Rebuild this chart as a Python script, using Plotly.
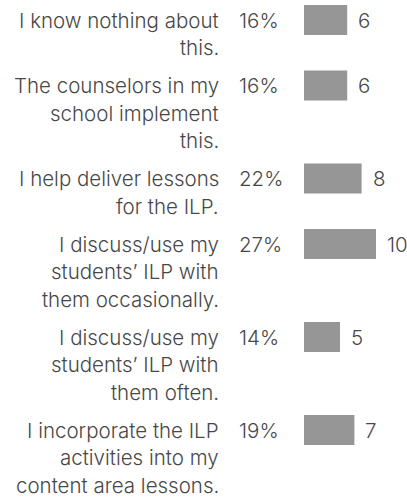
import plotly.graph_objects as go

# Data
labels = [
    ["I know nothing about", "this."],
    ["The counselors in my", "school implement", "this."],
    ["I help deliver lessons", "for the ILP."],
    ["I discuss/use my", "students\u2019 ILP with", "them occasionally."],
    ["I discuss/use my", "students\u2019 ILP with", "them often."],
    ["I incorporate the ILP", "activities into my", "content area lessons."],
]
percents = ["16%", "16%", "22%", "27%", "14%", "19%"]
counts = [6, 6, 8, 10, 5, 7]

# Layout parameters (pixels)
W, H = 407, 497
LINE = 27.5
PAD = 10.5
TOP0 = 5
BAR_H = 30
BAR_X0 = 304
PX_PER_UNIT = 7.2
LABEL_RIGHT = 221
PCT_LEFT = 237

FONT = "Inter"
FSIZE = 20.5
TXT = "#474747"
BAR = "#969696"

tops = []
t = TOP0
for lines in labels:
    tops.append(t)
    t += len(lines) * LINE + PAD
centers = [tp + BAR_H / 2 for tp in tops]

fig = go.Figure()
fig.add_trace(go.Bar(
    x=counts, y=centers, orientation="h", width=BAR_H,
    marker=dict(color=BAR, line=dict(width=0)),
    hoverinfo="skip",
))

fnt = dict(family=FONT, size=FSIZE, color=TXT, weight=300)
ann = []
for lines, c, p, n in zip(labels, centers, percents, counts):
    for i, ln in enumerate(lines):
        ann.append(dict(x=LABEL_RIGHT / W, xref="paper", y=c + i * LINE, yref="y",
                        text=ln, showarrow=False, xanchor="right", yanchor="middle",
                        font=fnt))
    ann.append(dict(x=PCT_LEFT / W, xref="paper", y=c, yref="y", text=p,
                    showarrow=False, xanchor="left", yanchor="middle", font=fnt))
    ann.append(dict(x=n, xref="x", y=c, yref="y", text=str(n), showarrow=False,
                    xanchor="left", yanchor="middle", xshift=9, font=fnt))

fig.update_layout(
    width=W, height=H,
    margin=dict(l=0, r=0, t=0, b=0),
    paper_bgcolor="white", plot_bgcolor="white",
    showlegend=False,
    annotations=ann,
    xaxis=dict(domain=[BAR_X0 / W, 1], range=[0, (W - BAR_X0) / PX_PER_UNIT],
               visible=False, fixedrange=True),
    yaxis=dict(range=[H, 0], visible=False, fixedrange=True),
)

fig.write_html("out.html", config={"displayModeBar": False},
               post_script="document.body.style.margin='0';document.body.style.overflow='hidden';")
